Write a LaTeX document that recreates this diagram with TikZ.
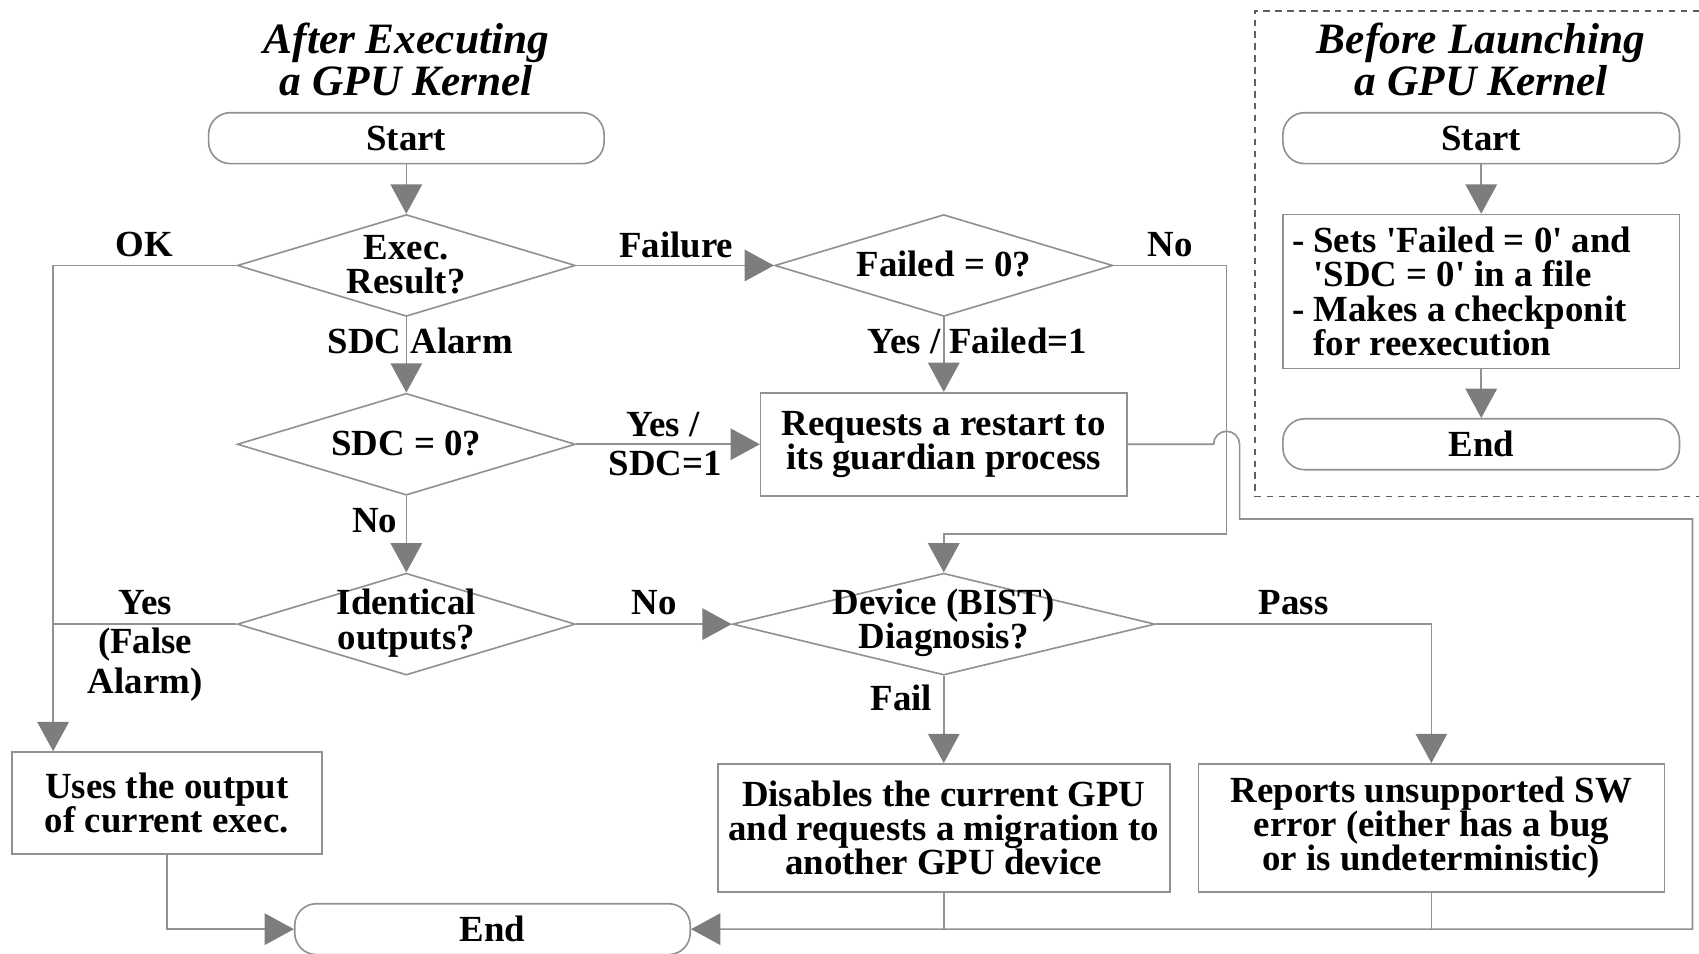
\documentclass[tikz,border=0pt]{standalone}
\usepackage{fontspec}
\setmainfont{Liberation Serif}
\usetikzlibrary{arrows.meta,shapes.geometric}
\definecolor{linec}{RGB}{145,145,145}
\definecolor{tipc}{RGB}{125,125,125}
\definecolor{dashc}{RGB}{95,95,95}
\begin{document}
\begin{tikzpicture}[x=0.5pt,y=-0.5pt,
  every node/.style={font=\bfseries\fontsize{17}{15.8}\selectfont, text=black},
  base/.style={draw=linec, line width=0.75pt, inner sep=0pt},
  term/.style={base, rectangle, rounded corners=10pt, minimum width=182.5pt, minimum height=23.5pt},
  proc/.style={base, rectangle, align=center},
  dec/.style={base, diamond, minimum width=156pt, minimum height=47pt},
  lbl/.style={inner sep=0pt, align=center},
  conn/.style={draw=linec, line width=0.75pt},
  arr/.style={conn, -{Triangle[length=13.5pt,width=14.5pt,fill=tipc,color=tipc]}},
  ttl/.style={inner sep=0pt, align=center, font=\bfseries\itshape\fontsize{20}{17.6}\selectfont}
]
\useasboundingbox (0,0) rectangle (1568,880);

% dashed frame (right side lies outside the picture)
\draw[dashc, line width=0.7pt, dash pattern=on 3pt off 2.5pt] (1568,10) -- (1158,10) -- (1158,458) -- (1568,458);

% titles
\node[ttl] (titleL) at (375,55) {After Executing\\a GPU Kernel};
\node[ttl] (titleR) at (1367,55) {Before Launching\\a GPU Kernel};

% left flow
\node[term] (startL) at (375,127.5) {Start};
\node[dec] (exec) at (375,245) {};
\node[lbl] (exect) at (375,244) {Exec.\\Result?};
\node[dec] (failed) at (871,245) {};
\node[lbl] (failedt) at (871,244) {Failed = 0?};
\node[dec] (sdc) at (375,410) {};
\node[lbl] (sdct) at (375,409) {SDC = 0?};
\node[proc, minimum width=169pt, minimum height=47.5pt] (req) at (871,410) {Requests a restart to\\its guardian process};
\node[dec] (ident) at (375,576) {};
\node[lbl] (identt) at (375,575) {Identical\\outputs?};
\node[dec, minimum width=195pt] (device) at (871,576) {};
\node[lbl] (devicet) at (871,575) {Device (BIST)\\Diagnosis?};
\node[proc, minimum width=143pt, minimum height=47pt] (uses) at (154,741) {Uses the output\\of current exec.};
\node[proc, minimum width=208.5pt, minimum height=59pt] (disables) at (871,764) {Disables the current GPU\\and requests a migration to\\another GPU device};
\node[proc, minimum width=215pt, minimum height=59pt] (reports) at (1321,764) {Reports unsupported SW\\error (either has a bug\\or is undeterministic)};
\node[term] (endL) at (454.5,857.5) {End};

% right flow
\node[term, minimum width=183pt] (startR) at (1367,127.5) {Start};
\node[proc, minimum width=183pt, minimum height=71pt] (setbox) at (1367,269) {};
\node[lbl, align=left, anchor=west] (setboxt) at (1192,269) {- Sets \textquotesingle Failed = 0\textquotesingle\ and\\\phantom{- }\textquotesingle SDC = 0\textquotesingle\ in a file\\- Makes a checkponit\\\phantom{- }for reexecution};
\node[term, minimum width=183pt] (endR) at (1367,410) {End};

% labels
\node[lbl] (lok) at (133,226) {OK};
\node[lbl] (lfail) at (624,226) {Failure};
\node[lbl] (lno1) at (1080,226) {No};
\node[lbl] (lsdca) at (388,315) {SDC Alarm};
\node[lbl] (lyesf) at (902,315) {Yes / Failed=1};
\node[lbl] (lyes1) at (612,392) {Yes /};
\node[lbl] (lyes2) at (614,428) {SDC=1};
\node[lbl] (lno2) at (346,480) {No};
\node[lbl] (lyes) at (134,556) {Yes};
\node[lbl] (lfalse) at (134,595) {(False};
\node[lbl] (lalarm) at (134,632) {Alarm)};
\node[lbl] (lno3) at (604,556) {No};
\node[lbl] (lpass) at (1194,556) {Pass};
\node[lbl] (lfl) at (832,644) {Fail};

% coordinates
\coordinate (okc) at (49,245);
\coordinate (nA) at (1132,245);
\coordinate (nB) at (1132,493);
\coordinate (nC) at (871,493);
\coordinate (hA) at (1120,410);
\coordinate (hB) at (1144,479);
\coordinate (hC) at (1562,479);
\coordinate (hD) at (1562,857.5);

% connectors
\draw[arr] (startL) -- (exec);
\draw[arr] (exec) -- (sdc);
\draw[arr] (sdc) -- (ident);
\draw[arr] (exec) -- (failed);
\draw[arr] (failed) -- (req);
\draw[arr] (sdc) -- (req);
\draw[arr] (ident) -- (device);
\draw[arr] (device) -- (disables);
\draw[arr] (device.east) -- (reports.north |- device.east) -- (reports.north);
\draw[arr] (failed.east) -- (nA) -- (nB) -- (nC) -- (device.north);
\draw[arr] (req.east) -- (hA) arc[start angle=180, end angle=0, radius=6pt] -- (hB) -- (hC) -- (hD) -- (endL.east);
\draw[conn] (disables.south) -- (disables.south |- hD);
\draw[conn] (reports.south) -- (reports.south |- hD);
\draw[arr] (uses.south) -- (uses.south |- endL.west) -- (endL.west);
\draw[arr] (exec.west) -- (okc) -- (okc |- uses.north);
\draw[conn] (ident.west) -- (okc |- ident.west);
\draw[arr] (startR) -- (setbox);
\draw[arr] (setbox) -- (endR);
\end{tikzpicture}
\end{document}
